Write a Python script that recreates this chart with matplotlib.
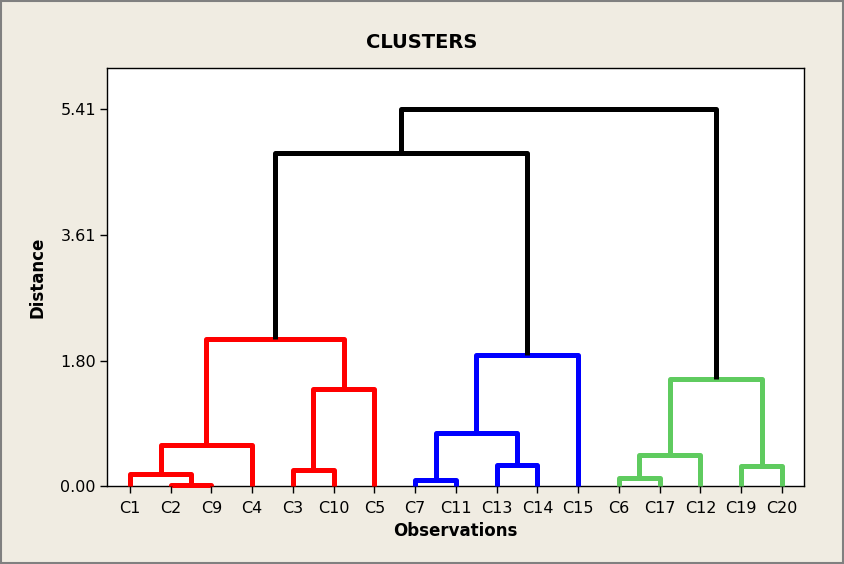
import matplotlib
matplotlib.use("Agg")
import matplotlib.pyplot as plt
from matplotlib.patches import Rectangle

# leaves in dendrogram order
leaf_labels = ["C1", "C2", "C9", "C4", "C3", "C10", "C5", "C7", "C11",
               "C13", "C14", "C15", "C6", "C17", "C12", "C19", "C20"]

# merges: ids < 17 are leaves, 17+ are earlier merges (in order)
merge_left = [1, 0, 18, 4, 20, 19, 7, 9, 23, 25, 12, 27, 15, 28, 22, 31]
merge_right = [2, 17, 3, 5, 6, 21, 8, 10, 24, 11, 13, 14, 16, 29, 26, 30]
merge_height = [0.01, 0.17, 0.59, 0.23, 1.39, 2.11, 0.08, 0.30, 0.765, 1.88,
                0.11, 0.445, 0.29, 1.535, 4.78, 5.41]
merge_group = ["A", "A", "A", "A", "A", "A", "B", "B", "B", "B",
               "C", "C", "C", "C", "top", "top"]

yticks = [0.00, 1.80, 3.61, 5.41]

group_colors = {"A": "#FF0000", "B": "#0000FF", "C": "#5FCB5F", "top": "#000000"}
bg = "#F0ECE2"

fig = plt.figure(figsize=(8.45, 5.64), dpi=100, facecolor=bg)
fig.patches.append(Rectangle((0.001, 0.002), 0.997, 0.996, transform=fig.transFigure,
                             fill=False, edgecolor="#808080", linewidth=1.5))
ax = fig.add_axes([107 / 845, 78 / 564, 697 / 845, 418 / 564])
ax.set_facecolor("white")

n = len(leaf_labels)
xpos = {i: i + 1 for i in range(n)}
ypos = {i: 0.0 for i in range(n)}

for k in range(len(merge_left)):
    a, b, h = merge_left[k], merge_right[k], merge_height[k]
    xa, xb = xpos[a], xpos[b]
    ax.plot([xa, xa, xb, xb], [ypos[a], h, h, ypos[b]],
            color=group_colors[merge_group[k]], linewidth=3.6,
            solid_joinstyle="round", solid_capstyle="butt",
            clip_on=False, zorder=3)
    xpos[n + k] = (xa + xb) / 2
    ypos[n + k] = h

ax.set_xlim(0.436, 17.54)
ax.set_ylim(0, 6.0)
ax.set_xticks(range(1, n + 1))
ax.set_xticklabels(leaf_labels)
ax.set_yticks(yticks)
ax.set_yticklabels(["%.2f" % v for v in yticks])
ax.tick_params(axis="both", direction="out", length=5, width=1, labelsize=11.5,
               colors="black", pad=3)
ax.tick_params(axis="x", pad=6)
for s in ax.spines.values():
    s.set_linewidth(1)
    s.set_color("black")

ax.set_xlabel("Observations", fontsize=12, fontweight="bold", labelpad=4)
ax.set_ylabel("Distance", fontsize=12, fontweight="bold", labelpad=10)
fig.text(422 / 845, 1 - 42 / 564, "CLUSTERS", ha="center", va="center",
         fontsize=14, fontweight="bold")

fig.savefig("out.png", dpi=100, facecolor=bg)
